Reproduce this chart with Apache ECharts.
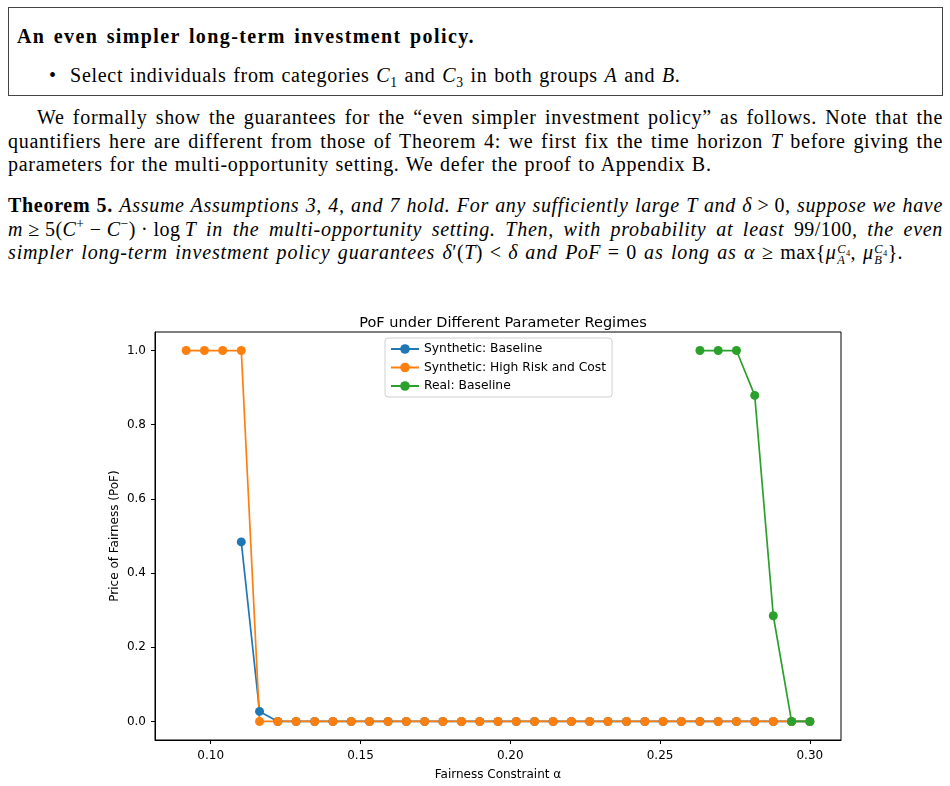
<!DOCTYPE html>
<html>
<head>
<meta charset="utf-8">
<script src="https://cdn.jsdelivr.net/npm/echarts@6/dist/echarts.min.js"></script>
<style>
  body { margin: 0; width: 950px; height: 786px; background: #fff; position: relative; overflow: hidden;
         font-family: "Liberation Serif", "DejaVu Serif", serif; color: #000; }
  .ln { position: absolute; font-size: 20px; line-height: 24px; white-space: nowrap;
        letter-spacing: 0.7px; word-spacing: 1px; }
  .jst { white-space: normal; text-align: justify; text-align-last: justify; word-spacing: 0; }
  .box { position: absolute; left: 8px; top: 7px; width: 933px; height: 87px; border: 1.5px solid #444; }
  .m { display: inline-block; white-space: nowrap; font-style: normal; letter-spacing: 0.4px; }
  sup, sub { font-size: 68%; line-height: 0; }
  .ss { display: inline-block; vertical-align: -5px; line-height: 11px; font-size: 62%; text-align: left; margin-left: 1px; }
  .ss span { display: block; }
  #chart { position: absolute; left: 0; top: 0; width: 950px; height: 786px; }
</style>
</head>
<body>
<div class="box"></div>
<div class="ln" style="left:17px; top:24px; letter-spacing:1.4px; word-spacing:2px;"><b>An even simpler long-term investment policy.</b></div>
<div class="ln" style="left:49px; top:63px;">•&nbsp;&nbsp;Select individuals from categories <i>C</i><sub>1</sub> and <i>C</i><sub>3</sub> in both groups <i>A</i> and <i>B</i>.</div>

<div class="ln jst" style="left:37px; top:105px; width:906px;">We formally show the guarantees for the “even simpler investment policy” as follows. Note that the</div>
<div class="ln jst" style="left:8px; top:129px; width:935px;">quantifiers here are different from those of Theorem 4: we first fix the time horizon <i>T</i> before giving the</div>
<div class="ln" style="left:8px; top:152px;">parameters for the multi-opportunity setting. We defer the proof to Appendix B.</div>

<div class="ln jst" style="left:8px; top:193px; width:935px;"><b>Theorem 5.</b> <i>Assume Assumptions 3, 4, and 7 hold. For any sufficiently large T and</i> <span class="m"><i>δ</i> &gt; 0</span><i>, suppose we have</i></div>
<div class="ln jst" style="left:8px; top:217px; width:935px;"><span class="m"><i>m</i> ≥ 5(<i>C</i><sup>+</sup> − <i>C</i><sup>−</sup>) · log&thinsp;<i>T</i></span> <i>in the multi-opportunity setting. Then, with probability at least</i> <span class="m">99/100</span><i>, the even</i></div>
<div class="ln" style="left:8px; top:240px; letter-spacing:0.85px; word-spacing:1.5px;"><i>simpler long-term investment policy guarantees</i> <span class="m"><i>δ</i>′(<i>T</i>) &lt; <i>δ</i></span> <i>and</i> <span class="m"><i>PoF</i> = 0</span> <i>as long as</i> <span class="m"><i>α</i> ≥ max{<i>μ</i><span class="ss"><span><i>C</i><sub>4</sub></span><span><i>A</i></span></span>, <i>μ</i><span class="ss"><span><i>C</i><sub>4</sub></span><span><i>B</i></span></span>}.</span></div>

<div id="chart"></div>
<script>
// alpha grid (35 points)
var alpha = [0.0918, 0.0979, 0.1040, 0.1102, 0.1163, 0.1224, 0.1285, 0.1347, 0.1408, 0.1469,
             0.1530, 0.1592, 0.1653, 0.1714, 0.1775, 0.1837, 0.1898, 0.1959, 0.2020, 0.2081,
             0.2143, 0.2204, 0.2265, 0.2326, 0.2388, 0.2449, 0.2510, 0.2571, 0.2633, 0.2694,
             0.2755, 0.2816, 0.2878, 0.2939, 0.3000];

var synthBaseline = [null, null, null, 0.484, 0.027, 0, 0, 0, 0, 0,
                     0, 0, 0, 0, 0, 0, 0, 0, 0, 0,
                     0, 0, 0, 0, 0, 0, 0, 0, 0, 0,
                     0, 0, 0, 0, 0];
var synthHighRisk = [1, 1, 1, 1, 0, 0, 0, 0, 0, 0,
                     0, 0, 0, 0, 0, 0, 0, 0, 0, 0,
                     0, 0, 0, 0, 0, 0, 0, 0, 0, 0,
                     0, 0, 0, 0, 0];
var realBaseline = [null, null, null, null, null, null, null, null, null, null,
                    null, null, null, null, null, null, null, null, null, null,
                    null, null, null, null, null, null, null, null, 1, 1,
                    1, 0.879, 0.285, 0, 0];

var xTicks = [0.10, 0.15, 0.20, 0.25, 0.30];
var yTicks = [0, 0.2, 0.4, 0.6, 0.8, 1.0];

var seriesNames = ['Synthetic: Baseline', 'Synthetic: High Risk and Cost', 'Real: Baseline'];
var colors = ['#1f77b4', '#ff7f0e', '#2ca02c'];

function pairs(vals) {
    return alpha.map(function (a, i) { return [a, vals[i]]; });
}

function mkSeries(name, vals, color) {
    return {
        name: name,
        type: 'line',
        data: pairs(vals),
        symbol: 'circle',
        symbolSize: 9,
        showSymbol: true,
        connectNulls: false,
        itemStyle: { color: color },
        lineStyle: { color: color, width: 1.7 },
        emphasis: { disabled: true },
        animation: false
    };
}

var font = 'DejaVu Sans';

var option = {
    animation: false,
    title: {
        text: 'PoF under Different Parameter Regimes',
        left: 498, top: 311, textAlign: 'center',
        textStyle: { fontFamily: font, fontSize: 14.5, fontWeight: 'normal', color: '#000' }
    },
    legend: {
        orient: 'vertical',
        left: 385, top: 338,
        data: seriesNames,
        backgroundColor: '#fff',
        borderColor: '#d0d0d0', borderWidth: 1, borderRadius: 3,
        padding: [4, 6, 4, 5],
        itemWidth: 28, itemHeight: 12, itemGap: 4.5,
        textStyle: { fontFamily: font, fontSize: 12.3, lineHeight: 14, color: '#000' }
    },
    grid: {
        left: 155, right: 109, top: 332, bottom: 44,
        show: true, borderColor: '#000', borderWidth: 1,
        containLabel: false
    },
    xAxis: {
        type: 'value',
        min: 0.0814, max: 0.3104,
        name: 'Fairness Constraint α',
        nameLocation: 'middle', nameGap: 29,
        nameMoveOverlap: false,
        nameTextStyle: { fontFamily: font, fontSize: 12, color: '#000' },
        axisLine: { show: true, onZero: false, lineStyle: { color: '#000', width: 1 } },
        axisTick: { show: true, inside: false, length: 4, customValues: xTicks, lineStyle: { color: '#000' } },
        axisLabel: {
            customValues: xTicks, margin: 10,
            fontFamily: font, fontSize: 12, color: '#000',
            formatter: function (v) { return v.toFixed(2); }
        },
        splitLine: { show: false }
    },
    yAxis: {
        type: 'value',
        min: -0.05, max: 1.05,
        name: 'Price of Fairness (PoF)',
        nameLocation: 'middle', nameGap: 34,
        nameMoveOverlap: false,
        nameTextStyle: { fontFamily: font, fontSize: 12, color: '#000' },
        axisLine: { show: true, onZero: false, lineStyle: { color: '#000', width: 1 } },
        axisTick: { show: true, inside: false, length: 4, customValues: yTicks, lineStyle: { color: '#000' } },
        axisLabel: {
            customValues: yTicks, margin: 9,
            fontFamily: font, fontSize: 12, color: '#000',
            formatter: function (v) { return v.toFixed(1); }
        },
        splitLine: { show: false }
    },
    series: [
        mkSeries(seriesNames[0], synthBaseline, colors[0]),
        mkSeries(seriesNames[1], synthHighRisk, colors[1]),
        mkSeries(seriesNames[2], realBaseline, colors[2])
    ]
};

var chart = echarts.init(document.getElementById('chart'));
chart.setOption(option);
</script>
</body>
</html>
